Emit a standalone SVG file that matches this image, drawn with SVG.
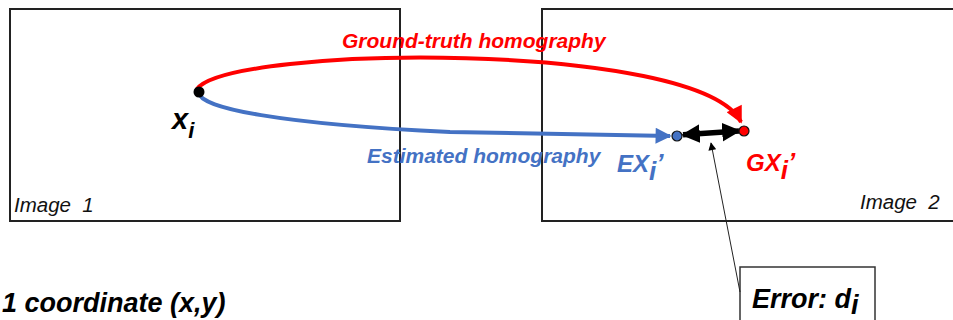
<svg xmlns="http://www.w3.org/2000/svg" width="953" height="320" viewBox="0 0 953 320">
<style>
  .box{fill:#fff;stroke:#222;stroke-width:2}
  .t{font-family:"Liberation Sans",Arial,sans-serif;font-style:italic;font-weight:bold}
  .lbl{font-family:"Liberation Sans",Arial,sans-serif;font-style:italic;font-size:20.5px;fill:#111;white-space:pre}
</style>
<defs>
  <marker id="ar" viewBox="0 0 10 10" refX="9" refY="5" markerWidth="4.5" markerHeight="4.2" orient="auto" markerUnits="strokeWidth">
    <path d="M0,0 L10,5 L0,10 z" fill="#ff0000"/>
  </marker>
  <marker id="ab" viewBox="0 0 10 10" refX="9" refY="5" markerWidth="4.5" markerHeight="4" orient="auto" markerUnits="strokeWidth">
    <path d="M0,0 L10,5 L0,10 z" fill="#4472c4"/>
  </marker>
  <marker id="ak" viewBox="0 0 10 10" refX="9" refY="5" markerWidth="3.4" markerHeight="3.8" orient="auto-start-reverse" markerUnits="strokeWidth">
    <path d="M0,0 L10,5 L0,10 z" fill="#000"/>
  </marker>
  <marker id="at" viewBox="0 0 10 10" refX="9" refY="5" markerWidth="10" markerHeight="8" orient="auto" markerUnits="strokeWidth">
    <path d="M0,0 L10,5 L0,10 z" fill="#000"/>
  </marker>
</defs>

<g id="image1">
  <rect class="box" x="10" y="9" width="390" height="212"/>
  <text class="lbl" x="14" y="212">Image  1</text>
</g>
<g id="image2">
  <rect class="box" x="542" y="9" width="420" height="212"/>
  <text class="lbl" x="860" y="209">Image  2</text>
</g>
<g id="error">
  <rect x="740" y="267" width="135" height="70" fill="#fff" stroke="#333" stroke-width="1.5"/>
  <text class="t" x="752" y="308" font-size="27" fill="#000">Error: d<tspan font-size="27" dy="6">i</tspan></text>
</g>
<g id="caption">
  <text class="t" x="2" y="312" font-size="27" fill="#000">1 coordinate (x,y)</text>
</g>

<g id="connectors">
  <path d="M197,89 C230,45 700,40 741,122" fill="none" stroke="#ff0000" stroke-width="4" marker-end="url(#ar)"/>
  <path d="M199,93 C200,108 280,124 450,132 L670,136" fill="none" stroke="#4472c4" stroke-width="4" marker-end="url(#ab)"/>
  <line x1="683" y1="134.8" x2="739" y2="131" stroke="#000" stroke-width="5.5" marker-start="url(#ak)" marker-end="url(#ak)"/>
  <line x1="740" y1="292" x2="711" y2="143" stroke="#222" stroke-width="1" marker-end="url(#at)"/>
  <text class="t" x="342" y="48" font-size="21" fill="#ff0000">Ground-truth homography</text>
  <text class="t" x="367" y="163" font-size="21" fill="#4472c4">Estimated homography</text>
</g>

<g id="xi">
  <circle cx="199" cy="92" r="5.5" fill="#000"/>
  <text class="t" x="172" y="129" font-size="29" fill="#000">x<tspan font-size="22" dy="9">i</tspan></text>
</g>
<g id="exi">
  <circle cx="677" cy="136" r="5" fill="#4472c4" stroke="#111" stroke-width="1.2"/>
  <text class="t" x="617" y="172" font-size="24" fill="#4472c4">EX<tspan font-size="26" dy="8">i</tspan><tspan font-size="26" dy="-8">’</tspan></text>
</g>
<g id="gxi">
  <circle cx="744" cy="131" r="5" fill="#ff0000" stroke="#111" stroke-width="1.2"/>
  <text class="t" x="746" y="171" font-size="24" fill="#ff0000">GX<tspan font-size="26" dy="8">i</tspan><tspan font-size="26" dy="-8">’</tspan></text>
</g>
</svg>
